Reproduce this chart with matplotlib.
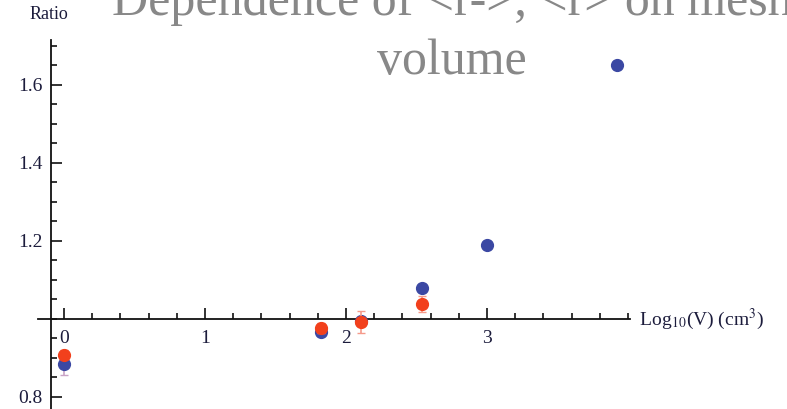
import matplotlib
matplotlib.use('Agg')

import matplotlib.pyplot as plt
from matplotlib.ticker import MultipleLocator, FixedLocator

# data
log_v = [0.0, 1.82, 2.11, 2.54, 3.0, 3.92]
ratio_blue = [0.885, 0.967, 0.995, 1.080, 1.190, 1.651]
err_blue = [0.03, 0.008, 0.01, 0.01, 0.008, 0.01]
ratio_red = [0.908, 0.977, 0.992, 1.038, None, None]
err_red = [0.012, 0.012, 0.028, 0.02, None, None]

x_ticks = [0, 1, 2, 3]
y_ticks = [0.8, 1.2, 1.4, 1.6]

blue = '#3b48a3'
red = '#f2401c'
serif = 'Liberation Serif'
plt.rcParams['mathtext.fontset'] = 'stix'

fig = plt.figure(figsize=(7.87, 4.09), dpi=100)
ax = fig.add_axes([38 / 787, 0.0, (630 - 38) / 787, (409 - 40) / 409])
ax.set_xlim(-0.184, 4.014)
ax.set_ylim(0.769, 1.715)

ax.spines['top'].set_visible(False)
ax.spines['right'].set_visible(False)
ax.spines['left'].set_position(('data', -0.09))
ax.spines['bottom'].set_position(('data', 1.0))
for s in ('left', 'bottom'):
    ax.spines[s].set_linewidth(1.3)
    ax.spines[s].set_color('#111111')

ax.xaxis.set_major_locator(FixedLocator(x_ticks))
ax.xaxis.set_minor_locator(MultipleLocator(0.2))
ax.yaxis.set_major_locator(FixedLocator(y_ticks))
ax.yaxis.set_minor_locator(MultipleLocator(0.05))
ax.tick_params(which='both', direction='in', color='#111111', width=1.2)
ax.tick_params(which='major', length=8)
ax.tick_params(which='minor', length=4)
ax.tick_params(axis='x', pad=8)
ax.tick_params(axis='y', pad=6)
for lab in ax.get_xticklabels() + ax.get_yticklabels():
    lab.set_fontfamily(serif)
    lab.set_fontsize(14)
    lab.set_color('#1c1c3c')

rx = [x for x, r in zip(log_v, ratio_red) if r is not None]
ry = [r for r in ratio_red if r is not None]
re = [e for e in err_red if e is not None]

ax.errorbar(log_v, ratio_blue, yerr=err_blue, fmt='o', color=blue, ms=8.5,
            ecolor='#c9a3c6', elinewidth=1.2, capsize=3, zorder=3, clip_on=False)
ax.errorbar(rx, ry, yerr=re, fmt='o', color=red, ms=8.5,
            ecolor='#f59a8a', elinewidth=1.2, capsize=3, zorder=4, clip_on=False)

ax.text(1.0, 1.0, '  Log$_{10}$(V) (cm$^3$)', transform=ax.get_yaxis_transform(),
        ha='left', va='center', fontfamily=serif, fontsize=14, color='#1c1c3c')
fig.text(49 / 787, 1 - 19 / 409, 'Ratio', ha='center', va='baseline',
         fontfamily=serif, fontsize=13, color='#1c1c3c')

fig.text(452 / 787, 1 - 15 / 409, 'Dependence of <r->, <r> on mesh',
         ha='center', va='baseline', fontfamily=serif, fontsize=36, color='#888888')
fig.text(452 / 787, 1 - 74 / 409, 'volume',
         ha='center', va='baseline', fontfamily=serif, fontsize=36, color='#888888')

fig.savefig('out.png', dpi=100)
